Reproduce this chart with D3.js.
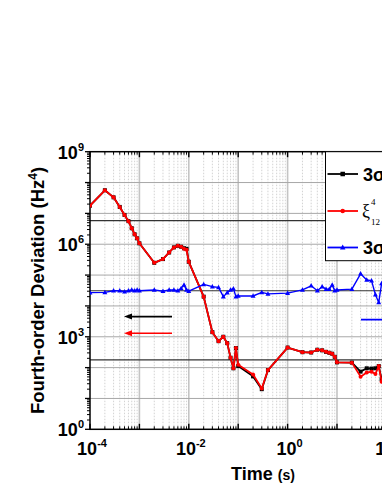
<!DOCTYPE html>
<html><head><meta charset="utf-8">
<script src="https://cdn.jsdelivr.net/npm/d3@7"></script>
<style>html,body{margin:0;padding:0;background:#fff;overflow:hidden}svg{display:block}</style>
</head><body>
<script>
const times = [1e-4,2e-4,3e-4,4e-4,5e-4,6e-4,7e-4,8e-4,9e-4,1e-3,2e-3,3e-3,4e-3,5e-3,6e-3,7e-3,8e-3,9e-3,1e-2,2e-2,3e-2,4e-2,5e-2,6e-2,7e-2,8e-2,9e-2,0.1,0.2,0.3,0.4,1,2,3,4,5,6,7,8,9,10,20,30,40,50,60,70,80];
const redVals = [1.78e7,5.62e7,3.31e7,1.62e7,8.9e6,5.6e6,3.3e6,2.1e6,1.55e6,1.07e6,2.5e5,3.3e5,5.4e5,7.9e5,8.9e5,8.3e5,7.1e5,6.6e5,2.7e5,2.0e4,1410,720,1000,620,210,95,430,123,60,21,83,447,316,309,380,363,324,302,282,224,148,145,51,69,74,62,112,35];
const blackVals = [1.78e7,5.62e7,3.31e7,1.62e7,8.9e6,5.6e6,3.3e6,2.1e6,1.55e6,1.07e6,2.5e5,3.3e5,5.4e5,7.9e5,8.9e5,8.3e5,7.4e5,7.1e5,2.7e5,2.0e4,1410,720,1000,620,210,95,430,112,52,20,83,447,316,309,380,363,324,302,282,224,148,145,74,95,93,95,112,42];
const blueVals = [2.7e4,2.75e4,3.1e4,3.1e4,2.9e4,3.1e4,3.3e4,3.1e4,3.3e4,3.1e4,3.3e4,3.0e4,3.3e4,3.3e4,3.1e4,3.7e4,4.8e4,3.3e4,3.0e4,5.0e4,4.2e4,4.0e4,2.0e4,2.7e4,3.3e4,3.6e4,2.0e4,2.1e4,2.1e4,2.75e4,2.45e4,2.6e4,3.3e4,4.5e4,3.1e4,4.2e4,3.5e4,3.5e4,4.8e4,3.1e4,3.3e4,3.5e4,1.1e5,6.9e4,6.6e4,2.3e4,1.3e4,5.4e4];
const refLines = [5.8e6, 3.1e4, 177];
const xTickVals = [1e-4,1e-2,1,1e2];
const xTickExp = ["-4","-2","0","2"];
const yTickVals = [1,1e3,1e6,1e9];
const yTickExp = ["0","3","6","9"];
const arrowLevels = [4.5e3, 1.3e3, 3.6e3];
</script>
<script>
const W=382,H=494;
const svg=d3.select("body").append("svg").attr("width",W).attr("height",H);
const x=d3.scaleLog().domain([1e-4,1e2]).range([90,386.4]);
const y=d3.scaleLog().domain([1,1e9]).range([429.3,151.7]);
const x0=90,x1=386.4,y0=429.3,y1=151.7;

const minors=[];
for(let e=-4;e<2;e++){for(let k=2;k<=9;k++)minors.push(k*Math.pow(10,e));}
svg.append("g").selectAll("line").data(minors).join("line")
 .attr("x1",d=>x(d)).attr("x2",d=>x(d)).attr("y1",y1).attr("y2",y0)
 .attr("stroke","#c8c8c8").attr("stroke-width",0.8).attr("stroke-dasharray","1.5,1.5");
const majX=[1e-3,1e-2,1e-1,1,10];
svg.append("g").selectAll("line").data(majX).join("line")
 .attr("x1",d=>x(d)).attr("x2",d=>x(d)).attr("y1",y1).attr("y2",y0)
 .attr("stroke","#c4c4c4").attr("stroke-width",1.6);
const majY=[10,100,1e3,1e4,1e5,1e6,1e7,1e8];
svg.append("g").selectAll("line").data(majY).join("line")
 .attr("x1",x0).attr("x2",x1).attr("y1",d=>y(d)).attr("y2",d=>y(d))
 .attr("stroke","#a8a8a8").attr("stroke-width",1);
svg.append("g").selectAll("line").data(refLines).join("line")
 .attr("x1",x0).attr("x2",x1).attr("y1",d=>y(d)).attr("y2",d=>y(d))
 .attr("stroke","#333").attr("stroke-width",1.2);

const yMinor=[];
for(let e=0;e<9;e++){for(let k=2;k<=9;k++)yMinor.push(k*Math.pow(10,e));}
const yMajorAll=[1,10,100,1e3,1e4,1e5,1e6,1e7,1e8,1e9];
const ax=svg.append("g").attr("stroke","#000");
ax.selectAll(".ymi").data(yMinor).join("line").attr("x1",x0-3).attr("x2",x0).attr("y1",d=>y(d)).attr("y2",d=>y(d)).attr("stroke-width",1);
ax.selectAll(".yma").data(yMajorAll).join("line").attr("x1",x0-5).attr("x2",x0).attr("y1",d=>y(d)).attr("y2",d=>y(d)).attr("stroke-width",1.3);
const xMajorAll=[1e-4,1e-3,1e-2,1e-1,1,10,100];
[y0,y1].forEach((yy,i)=>{
  const dir = i===0?-1:1;
  ax.append("g").selectAll("line").data(minors).join("line").attr("x1",d=>x(d)).attr("x2",d=>x(d)).attr("y1",yy).attr("y2",yy+dir*3).attr("stroke-width",1);
  ax.append("g").selectAll("line").data(xMajorAll).join("line").attr("x1",d=>x(d)).attr("x2",d=>x(d)).attr("y1",yy).attr("y2",yy+dir*5.5).attr("stroke-width",1.4);
});
svg.append("rect").attr("x",x0).attr("y",y1).attr("width",x1-x0).attr("height",y0-y1).attr("fill","none").attr("stroke","#000").attr("stroke-width",1.5);

const line=d3.line().x(d=>x(d[0])).y(d=>y(d[1]));
const ser=[
 {vals:blackVals,color:"#000",mk:"square"},
 {vals:redVals,color:"#f00",mk:"circle"},
 {vals:blueVals,color:"#00f",mk:"triangle"}];
svg.append("clipPath").attr("id","c").append("rect").attr("x",x0).attr("y",y1).attr("width",x1-x0).attr("height",y0-y1);
const dg=svg.append("g").attr("clip-path","url(#c)");
function marker(g,type,cx,cy,color,s){
  if(type==="square")g.append("rect").attr("x",cx-s/2).attr("y",cy-s/2).attr("width",s).attr("height",s).attr("fill",color);
  else if(type==="circle")g.append("circle").attr("cx",cx).attr("cy",cy).attr("r",s/2).attr("fill",color);
  else g.append("path").attr("d",`M${cx},${cy-s*0.6}L${cx+s*0.55},${cy+s*0.4}L${cx-s*0.55},${cy+s*0.4}Z`).attr("fill",color);
}
ser.forEach(s=>{
  const pts=times.map((t,i)=>[t,s.vals[i]]);
  dg.append("path").attr("d",line(pts)).attr("fill","none").attr("stroke",s.color).attr("stroke-width",s.mk==="triangle"?1.4:1.8).attr("stroke-linejoin","round");
  pts.forEach(p=>marker(dg,s.mk,x(p[0]),y(p[1]),s.color,s.mk==="triangle"?4.5:4));
});

function arrow(xa,xb,yy,color){
  svg.append("line").attr("x1",xa).attr("x2",xb+6).attr("y1",yy).attr("y2",yy).attr("stroke",color).attr("stroke-width",1.6);
  svg.append("path").attr("d",`M${xb},${yy}L${xb+8},${yy-3}L${xb+8},${yy+3}Z`).attr("fill",color);
}
arrow(172,124,y(arrowLevels[0]),"#000");
arrow(172,124,y(arrowLevels[1]),"#f00");
svg.append("line").attr("x1",361).attr("x2",395).attr("y1",y(arrowLevels[2])).attr("y2",y(arrowLevels[2])).attr("stroke","#00f").attr("stroke-width",1.6);

const lg=svg.append("g");
lg.append("rect").attr("x",325.5).attr("y",y1).attr("width",80).attr("height",109).attr("fill","#fff").attr("stroke","#000").attr("stroke-width",1);
const legY=[174,211,247.5];
ser.forEach((s,i)=>{
  lg.append("line").attr("x1",327.5).attr("x2",358).attr("y1",legY[i]).attr("y2",legY[i]).attr("stroke",s.color).attr("stroke-width",1.8);
  marker(lg,s.mk,342.7,legY[i],s.color,s.mk==="triangle"?5:4.5);
});
lg.append("text").attr("x",363).attr("y",legY[0]+6.5).attr("font-family","Liberation Sans, Arial, sans-serif").attr("font-weight","bold").attr("font-size",18).text("3σ");
lg.append("text").attr("x",363).attr("y",legY[2]+6.5).attr("font-family","Liberation Sans, Arial, sans-serif").attr("font-weight","bold").attr("font-size",18).text("3σ");
lg.append("text").attr("x",362).attr("y",legY[1]+6).attr("font-family","Liberation Serif, Times New Roman, serif").attr("font-size",18).text("ξ");
lg.append("text").attr("x",371).attr("y",legY[1]-6).attr("font-family","Liberation Serif, Times New Roman, serif").attr("font-size",9).text("4");
lg.append("text").attr("x",371).attr("y",legY[1]+14).attr("font-family","Liberation Serif, Times New Roman, serif").attr("font-size",9).text("12");

const F="Liberation Sans, Arial, sans-serif";
yTickVals.forEach((v,i)=>{
  const t=svg.append("text").attr("font-family",F).attr("font-weight","bold").attr("font-size",18).attr("text-anchor","end").attr("x",84).attr("y",y(v)+7);
  t.append("tspan").text("10");
  t.append("tspan").attr("dy",-8).attr("font-size",11).text(yTickExp[i]);
});
xTickVals.forEach((v,i)=>{
  const t=svg.append("text").attr("font-family",F).attr("font-weight","bold").attr("font-size",18).attr("text-anchor","middle").attr("x",x(v)+2).attr("y",455);
  t.append("tspan").text("10");
  t.append("tspan").attr("dy",-8).attr("font-size",11).text(xTickExp[i]);
});
const xt=svg.append("text").attr("font-family",F).attr("font-weight","bold").attr("text-anchor","middle").attr("x",263).attr("y",480);
xt.append("tspan").attr("font-size",18).text("Time ");
xt.append("tspan").attr("font-size",14).text("(s)");
const yt=svg.append("text").attr("font-family",F).attr("font-weight","bold").attr("font-size",18.5).attr("text-anchor","middle").attr("transform",`translate(44,${(y0+y1)/2}) rotate(-90)`);
yt.append("tspan").text("Fourth-order Deviation (Hz");
yt.append("tspan").attr("dy",-7).attr("font-size",12).text("4");
yt.append("tspan").attr("dy",7).text(")");
</script>
</body></html>
